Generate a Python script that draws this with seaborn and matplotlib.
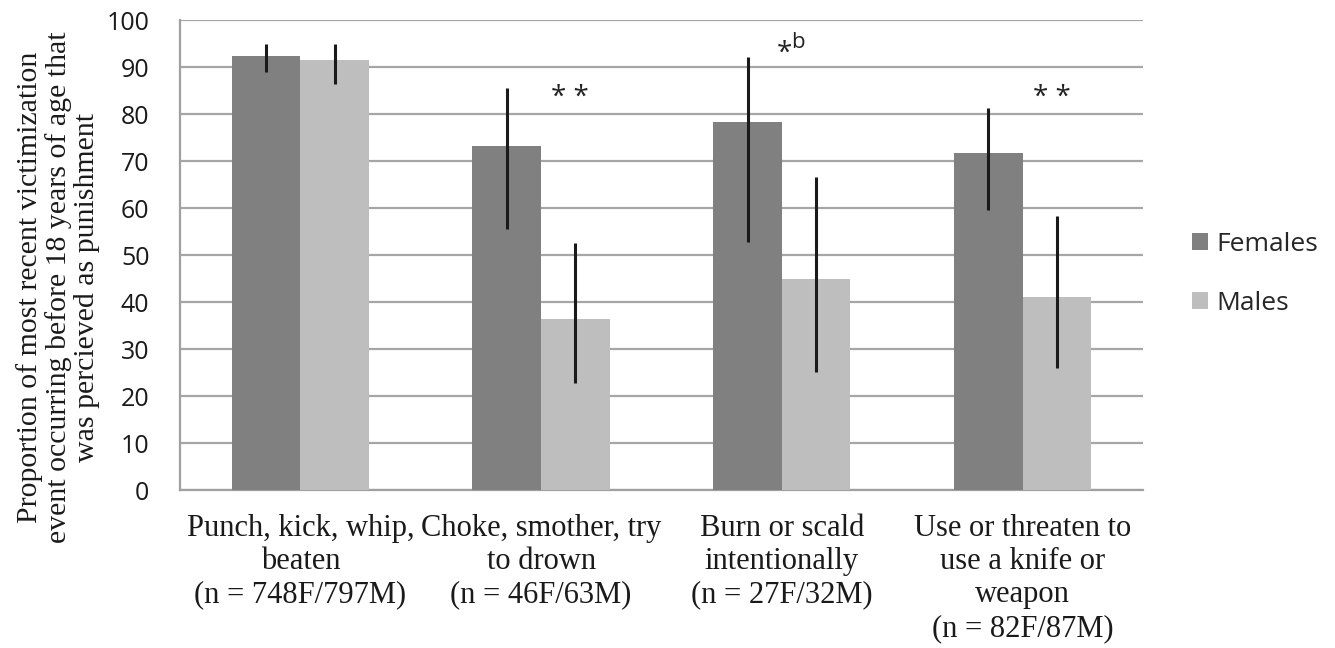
import seaborn as sns
import matplotlib.pyplot as plt
import pandas as pd
import numpy as np

CATEGORIES = ['Punch, kick, whip,\nbeaten\n(n = 748F/797M)',
              'Choke, smother, try\nto drown\n(n = 46F/63M)',
              'Burn or scald\nintentionally\n(n = 27F/32M)',
              'Use or threaten to\nuse a knife or\nweapon\n(n = 82F/87M)']
GROUPS = ['Females', 'Males']
FEMALES = [92.4, 73.2, 78.4, 71.7]
MALES = [91.6, 36.4, 45.0, 41.1]
FEMALES_LO = [88.9, 55.5, 52.8, 59.6]
FEMALES_HI = [94.9, 85.5, 92.1, 81.3]
MALES_LO = [86.3, 22.8, 25.2, 26.0]
MALES_HI = [95.0, 52.5, 66.6, 58.2]
MARKS = ['', '* *', '*', '* *']
MARK_X = [0, 1.12, 2.01, 3.12]
MARK_Y = [0, 83.4, 92.9, 83.4]
Y_TICKS = list(range(0, 101, 10))


def build_frame():
    rows = []
    for i, cat in enumerate(CATEGORIES):
        rows.append({'cat': cat, 'sex': 'Females', 'value': FEMALES[i]})
        rows.append({'cat': cat, 'sex': 'Males', 'value': MALES[i]})
    return pd.DataFrame(rows)


def draw(data):
    sns.set_style('white')
    fig = plt.figure(figsize=(13.35, 6.48), dpi=100)
    ax = fig.add_axes([0.1348, 0.2438, 0.7214, 0.7253])

    palette = {'Females': '#808080', 'Males': '#bebebe'}
    sns.barplot(data=data, x='cat', y='value', hue='sex', order=CATEGORIES,
                hue_order=GROUPS, palette=palette, width=0.57, errorbar=None,
                saturation=1, linewidth=0, ax=ax, zorder=3)

    # error bars from bar centres
    for cont, lo, hi in zip(ax.containers, [FEMALES_LO, MALES_LO], [FEMALES_HI, MALES_HI]):
        xs = [p.get_x() + p.get_width() / 2 for p in cont.patches]
        ax.vlines(xs, lo, hi, color='#1a1a1a', lw=2.2, zorder=4)

    # significance marks
    for i, m in enumerate(MARKS):
        if not m:
            continue
        ax.text(MARK_X[i], MARK_Y[i], m, ha='center', va='center',
                fontsize=20, family='Open Sans', color='#222222')
    ax.text(2.04, 95.2, 'b', ha='left', va='center',
            fontsize=16, family='Open Sans', color='#222222')

    ax.set_ylim(0, 100)
    ax.set_xlim(-0.5, 3.5)
    ax.set_yticks(Y_TICKS)
    ax.yaxis.grid(True, color='#a6a6a6', lw=1.6, zorder=0)
    ax.set_axisbelow(True)
    for s in ['top', 'right']:
        ax.spines[s].set_visible(False)
    for s in ['left', 'bottom']:
        ax.spines[s].set_color('#a0a0a0')
        ax.spines[s].set_linewidth(1.6)

    ax.tick_params(axis='y', length=7, width=1.6, color='#a0a0a0',
                   labelsize=18, labelcolor='#1a1a1a', pad=15)
    for lab in ax.get_yticklabels():
        lab.set_family('Open Sans')
    ax.set_xticks(range(len(CATEGORIES)))
    ax.set_xticklabels(CATEGORIES, family='Liberation Serif', fontsize=22,
                       color='#1a1a1a', linespacing=1.2)
    ax.tick_params(axis='x', length=0, pad=17)
    ax.set_xticks(np.arange(-0.5, 4.0, 1.0), minor=True)
    ax.tick_params(axis='x', which='minor', length=7, width=1.6, color='#a0a0a0')

    ax.set_xlabel('')
    ax.set_ylabel('Proportion of most recent victimization\n'
                  'event occurring before 18 years of age that\n'
                  'was percieved as punishment',
                  family='Liberation Serif', fontsize=21.5, color='#1a1a1a',
                  linespacing=1.1)
    ax.yaxis.set_label_coords(-0.083, 0.432)

    handles, labels = ax.get_legend_handles_labels()
    ax.legend(handles, labels, loc='center left', bbox_to_anchor=(1.026, 0.46),
              frameon=False, prop={'family': 'Open Sans', 'size': 19},
              handlelength=0.62, handleheight=0.62, labelspacing=1.3,
              handletextpad=0.3)

    fig.savefig('out.png', dpi=100)


if __name__ == '__main__':
    draw(build_frame())
